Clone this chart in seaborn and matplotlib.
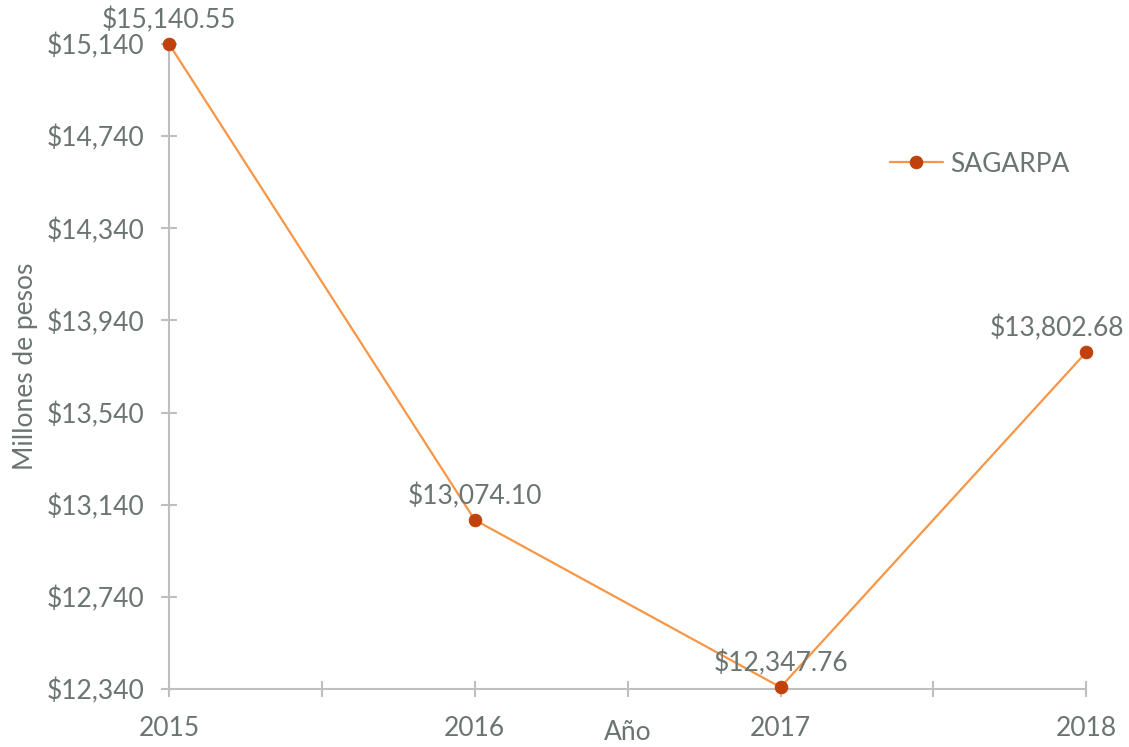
import matplotlib
matplotlib.use("Agg")
import matplotlib.pyplot as plt
import seaborn as sns
import pandas as pd
from matplotlib.ticker import FuncFormatter, MultipleLocator

# Data
years = [2015, 2016, 2017, 2018]
presupuesto = [15140.55, 13074.10, 12347.76, 13802.68]
y_ticks = [12340, 12740, 13140, 13540, 13940, 14340, 14740, 15140]
series_name = "SAGARPA"

sns.set_style("white")
plt.rcParams["font.family"] = ["Lato", "DejaVu Sans"]

text_color = "#6b7570"
axis_color = "#bfbfbf"
line_color = "#f79646"
marker_color = "#c0410b"
fs = 19

df = pd.DataFrame({"anio": years, "valor": presupuesto})

fig = plt.figure(figsize=(11.29, 7.47), dpi=100)
ax = fig.add_axes([0.1497, 0.0776, 0.9622 - 0.1497, 0.941 - 0.0776])

sns.lineplot(data=df, x="anio", y="valor", ax=ax, color=line_color,
             linewidth=1.6, marker="o", markersize=9,
             markerfacecolor=marker_color, markeredgecolor=marker_color,
             label=series_name, clip_on=False, zorder=3)

# data labels (last one nudged left so it stays inside the figure)
for i, (x, y) in enumerate(zip(years, presupuesto)):
    dx = -21 if i == len(years) - 1 else 0
    ax.annotate(f"${y:,.2f}", (x, y), xytext=(dx, 8), textcoords="offset points",
                ha="center", va="bottom", fontsize=fs, color=text_color)

ax.set_xlim(2015, 2018)
ax.set_ylim(12340, 15140)
ax.set_xticks(years)
ax.xaxis.set_minor_locator(MultipleLocator(0.5))
ax.set_yticks(y_ticks)
ax.yaxis.set_major_formatter(FuncFormatter(lambda v, p: f"${v:,.0f}"))

for s in ["top", "right"]:
    ax.spines[s].set_visible(False)
for s in ["left", "bottom"]:
    ax.spines[s].set_color(axis_color)
    ax.spines[s].set_linewidth(1.5)

ax.tick_params(axis="both", which="both", direction="inout", length=11,
               width=1.5, color=axis_color, labelcolor=text_color, labelsize=fs,
               bottom=True, left=True)
ax.tick_params(axis="x", which="major", pad=14)
ax.tick_params(axis="y", pad=12)

ax.set_xlabel("Año", fontsize=fs, color=text_color)
ax.xaxis.set_label_coords(0.5, -0.048)
ax.set_ylabel("Millones de pesos", fontsize=fs, color=text_color, labelpad=6)

leg = ax.legend(loc="upper left", bbox_to_anchor=(0.76, 0.87), frameon=False,
                fontsize=fs, handlelength=2.0, handletextpad=0.3)
for t in leg.get_texts():
    t.set_color(text_color)

fig.savefig("out.png", dpi=100)
